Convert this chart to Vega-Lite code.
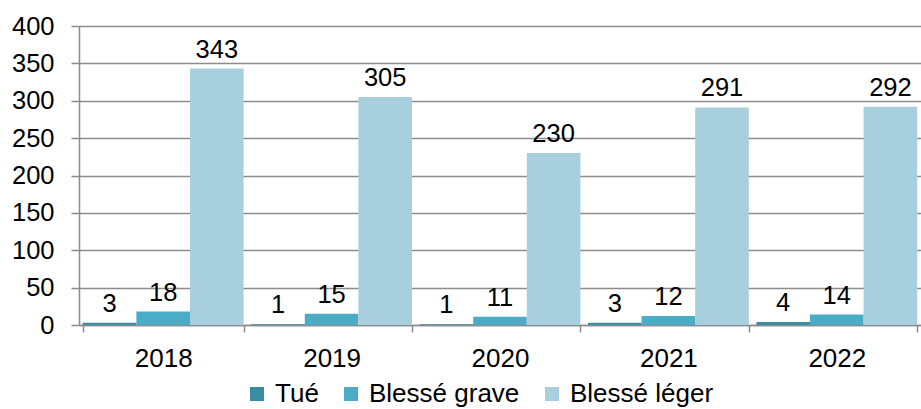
{
  "$schema": "https://vega.github.io/schema/vega-lite/v6.json",
  "width": 842,
  "height": 299,
  "autosize": {"type": "none"},
  "padding": {"left": 79, "top": 26, "right": 0, "bottom": 84},
  "background": "white",
  "config": {
    "font": "Liberation Sans",
    "view": {"stroke": null},
    "axis": {"labelFont": "Liberation Sans", "labelFontSize": 25.5, "labelColor": "#000000"}
  },
  "data": {
    "values": [
      {"year": "2018", "type": "Tué", "value": 3},
      {"year": "2018", "type": "Blessé grave", "value": 18},
      {"year": "2018", "type": "Blessé léger", "value": 343},
      {"year": "2019", "type": "Tué", "value": 1},
      {"year": "2019", "type": "Blessé grave", "value": 15},
      {"year": "2019", "type": "Blessé léger", "value": 305},
      {"year": "2020", "type": "Tué", "value": 1},
      {"year": "2020", "type": "Blessé grave", "value": 11},
      {"year": "2020", "type": "Blessé léger", "value": 230},
      {"year": "2021", "type": "Tué", "value": 3},
      {"year": "2021", "type": "Blessé grave", "value": 12},
      {"year": "2021", "type": "Blessé léger", "value": 291},
      {"year": "2022", "type": "Tué", "value": 4},
      {"year": "2022", "type": "Blessé grave", "value": 14},
      {"year": "2022", "type": "Blessé léger", "value": 292}
    ]
  },
  "encoding": {
    "x": {
      "field": "year", "type": "nominal",
      "scale": {"paddingInner": 0.045, "paddingOuter": 0.0225},
      "axis": {
        "title": null, "labelAngle": 0, "domainColor": "#8c8c8c", "domainWidth": 1.5,
        "tickColor": "#8c8c8c", "tickWidth": 1.5, "tickSize": 7, "tickBand": "extent",
        "labelPadding": 13, "grid": false, "labelFontSize": 26
      }
    },
    "xOffset": {"field": "type", "type": "nominal", "sort": ["Tué", "Blessé grave", "Blessé léger"], "scale": {"paddingInner": 0, "paddingOuter": 0}},
    "y": {
      "field": "value", "type": "quantitative",
      "scale": {"domain": [0, 400], "nice": false},
      "axis": {
        "title": null, "values": [0, 50, 100, 150, 200, 250, 300, 350, 400],
        "grid": true, "gridColor": "#8c8c8c", "gridWidth": 1.5,
        "domainColor": "#8c8c8c", "domainWidth": 1.5,
        "tickColor": "#8c8c8c", "tickWidth": 1.5, "tickSize": 8, "labelPadding": 17,
        "labelFontSize": 25.5
      }
    }
  },
  "layer": [
    {
      "mark": {"type": "bar"},
      "encoding": {
        "color": {
          "field": "type", "type": "nominal",
          "sort": ["Tué", "Blessé grave", "Blessé léger"],
          "scale": {"domain": ["Tué", "Blessé grave", "Blessé léger"], "range": ["#3A8CA0", "#4BACC6", "#A8CFDD"]},
          "legend": {
            "title": null, "orient": "none", "legendX": 165, "legendY": 355, "direction": "horizontal",
            "symbolType": "square", "symbolSize": 196, "symbolStrokeWidth": 0,
            "labelFontSize": 26, "labelFont": "Liberation Sans", "labelColor": "#000000",
            "columnPadding": 19, "labelOffset": 5
          }
        }
      }
    },
    {
      "mark": {"type": "text", "baseline": "bottom", "dy": -6, "fontSize": 25.5, "font": "Liberation Sans", "color": "#000000"},
      "encoding": {"text": {"field": "value", "type": "quantitative"}}
    }
  ]
}
